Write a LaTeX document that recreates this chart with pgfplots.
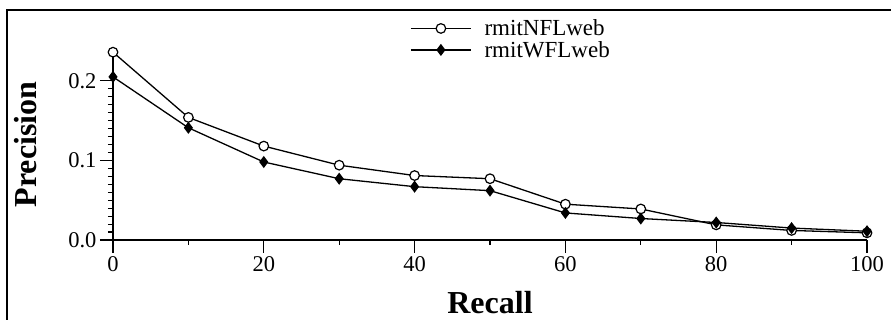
\documentclass[border=0pt]{standalone}
\usepackage{fontspec}
\setmainfont{Liberation Serif}
\usepackage{pgfplots}
\pgfplotsset{compat=1.18}
\begin{document}
\begin{tikzpicture}
\begin{axis}[
  at={(0,0)}, anchor=south west,
  scale only axis, width=754pt, height=191pt,
  xmin=0, xmax=100, ymin=0, ymax=0.24,
  axis lines*=left,
  axis line style={line width=1.3pt},
  every tick/.style={line width=1.1pt, black},
  tick align=outside,
  major tick length=13pt, minor tick length=5pt,
  xtick={0,20,...,100}, minor xtick={10,30,50,70,90},
  ytick={0,0.1,0.2}, minor y tick num=9,
  xticklabels={{\fontsize{22.5}{23}\selectfont 0},{\fontsize{22.5}{23}\selectfont 20},{\fontsize{22.5}{23}\selectfont 40},{\fontsize{22.5}{23}\selectfont 60},{\fontsize{22.5}{23}\selectfont 80},{\fontsize{22.5}{23}\selectfont 100}},
  yticklabels={{\fontsize{22.5}{23}\selectfont 0.0},{\fontsize{22.5}{23}\selectfont 0.1},{\fontsize{22.5}{23}\selectfont 0.2}},
  xlabel={\fontsize{32}{32}\selectfont\textbf{Recall}}, ylabel={\fontsize{32}{32}\selectfont\textbf{Precision}},
  xlabel style={at={(axis description cs:0.5,-0.3874)}, anchor=base},
  ylabel style={at={(axis description cs:-0.1008,0.5)}, anchor=base, rotate=0},
  legend style={at={(axis description cs:0.39,1.17)}, anchor=north west, draw=none, fill=none,
    row sep=2pt, column sep=12pt, nodes={inner sep=1pt}},
  legend cell align=left,
  legend image code/.code={\draw[mark repeat=2,mark phase=2,#1] plot coordinates {(0pt,0pt) (30pt,0pt) (60pt,0pt)};},
  clip=false,
]
\addplot[black, line width=1.3pt, mark=*, mark size=4.8pt, mark options={fill=white, draw=black, line width=1.2pt}]
  coordinates {(0,0.236) (10,0.154) (20,0.118) (30,0.094) (40,0.081) (50,0.077) (60,0.045) (70,0.039) (80,0.019) (90,0.012) (100,0.009)};
\addlegendentry{\fontsize{23}{24}\selectfont rmitNFLweb}
\addplot[black, line width=1.3pt, mark=diamond*, mark size=5pt, mark options={fill=black}]
  coordinates {(0,0.205) (10,0.141) (20,0.098) (30,0.077) (40,0.067) (50,0.062) (60,0.034) (70,0.027) (80,0.022) (90,0.015) (100,0.011)};
\addlegendentry{\fontsize{23}{24}\selectfont rmitWFLweb}
\end{axis}
\draw[line width=2pt] (-105.5pt,-81pt) -- (-105.5pt,230pt) -- (779pt,230pt);
\pgfresetboundingbox
\path (-113pt,-80pt) rectangle (778pt,240pt);
\end{tikzpicture}
\end{document}
